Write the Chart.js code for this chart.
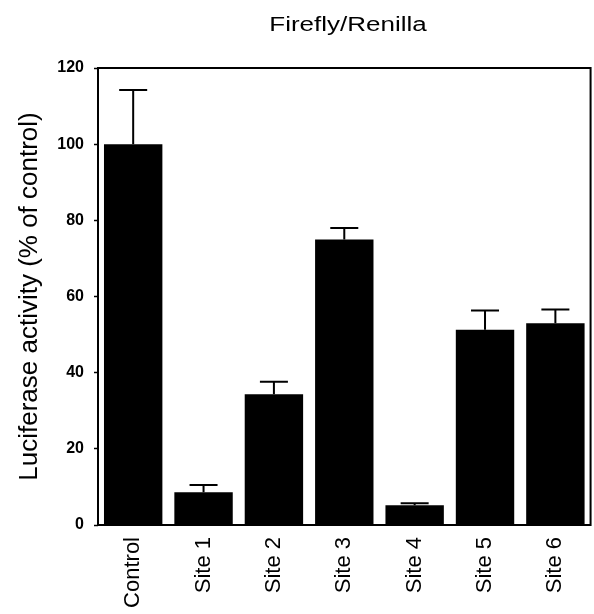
<!DOCTYPE html>
<html>
<head>
<meta charset="utf-8">
<title>Firefly/Renilla</title>
<script src="https://cdn.jsdelivr.net/npm/chart.js@4.4.1/dist/chart.umd.min.js"></script>
<style>
  html, body { margin: 0; padding: 0; background: #fff; }
  #wrap { width: 594px; height: 614px; }
</style>
</head>
<body>
<div id="wrap"><canvas id="myChart" width="594" height="614"></canvas></div>
<script>
// data
const categories = ['Control', 'Site 1', 'Site 2', 'Site 3', 'Site 4', 'Site 5', 'Site 6'];
const activity = [100, 8.6, 34.3, 75, 5.2, 51.3, 53];   // % of control
const errUp = [14.2, 1.9, 3.3, 3, 0.5, 5, 3.6];         // error bar (upper only)
const yTicks = [0, 20, 40, 60, 80, 100, 120];

const titleText = 'Firefly/Renilla';
const yTitle = 'Luciferase activity (% of control)';
const FONT = '"Liberation Sans", Arial, Helvetica, sans-serif';

// error bars (only the upper half, like the original)
const errorBars = {
  id: 'errorBars',
  afterDatasetsDraw(chart) {
    const ctx = chart.ctx;
    const y = chart.scales.y;
    const meta = chart.getDatasetMeta(0);
    ctx.save();
    ctx.strokeStyle = '#000';
    ctx.lineWidth = 2;
    meta.data.forEach((bar, i) => {
      const x = bar.x;
      const yBase = y.getPixelForValue(activity[i]);
      const yTop = y.getPixelForValue(activity[i] + errUp[i]);
      ctx.beginPath();
      ctx.moveTo(x, yBase);
      ctx.lineTo(x, yTop);
      ctx.moveTo(x - 14, yTop);
      ctx.lineTo(x + 14, yTop);
      ctx.stroke();
    });
    ctx.restore();
  }
};

// frame round the plot and the title on top
const frameAndTitle = {
  id: 'frameAndTitle',
  afterDraw(chart) {
    const ctx = chart.ctx;
    const a = chart.chartArea;
    ctx.save();
    ctx.strokeStyle = '#000';
    ctx.lineWidth = 2;
    ctx.strokeRect(a.left, a.top, a.right - a.left, a.bottom - a.top);

    ctx.fillStyle = '#000';
    ctx.font = '20px ' + FONT;
    ctx.textAlign = 'center';
    ctx.textBaseline = 'middle';
    ctx.translate(348, 25);
    ctx.scale(1.3, 1);
    ctx.fillText(titleText, 0, 0);
    ctx.restore();
  }
};

const ctx = document.getElementById('myChart').getContext('2d');

new Chart(ctx, {
  type: 'bar',
  data: {
    labels: categories,
    datasets: [{
      data: activity,
      backgroundColor: '#000',
      borderWidth: 0,
      barPercentage: 0.83,
      categoryPercentage: 1
    }]
  },
  options: {
    responsive: false,
    animation: false,
    layout: { padding: { top: 68, right: 3, left: 0, bottom: 0 } },
    plugins: {
      legend: { display: false },
      tooltip: { enabled: false }
    },
    scales: {
      x: {
        grid: { display: false, drawTicks: false },
        border: { display: false },
        ticks: {
          color: '#000',
          font: { family: FONT, size: 22 },
          minRotation: 90,
          maxRotation: 90,
          padding: 12
        },
        afterFit(scale) { scale.height = 89; }
      },
      y: {
        min: 0,
        max: 120,
        afterBuildTicks(scale) { scale.ticks = yTicks.map(v => ({ value: v })); },
        grid: {
          drawOnChartArea: false,
          drawTicks: true,
          tickLength: 4,
          tickWidth: 1.5,
          color: '#000'
        },
        border: { display: false },
        ticks: {
          color: '#000',
          font: { family: FONT, size: 16, weight: 'bold' },
          padding: 10
        },
        title: {
          display: true,
          text: yTitle,
          color: '#000',
          font: { family: FONT, size: 26 },
          padding: { top: 14, bottom: 0 }
        },
        afterFit(scale) { scale.width = 98; }
      }
    }
  },
  plugins: [errorBars, frameAndTitle]
});
</script>
</body>
</html>
